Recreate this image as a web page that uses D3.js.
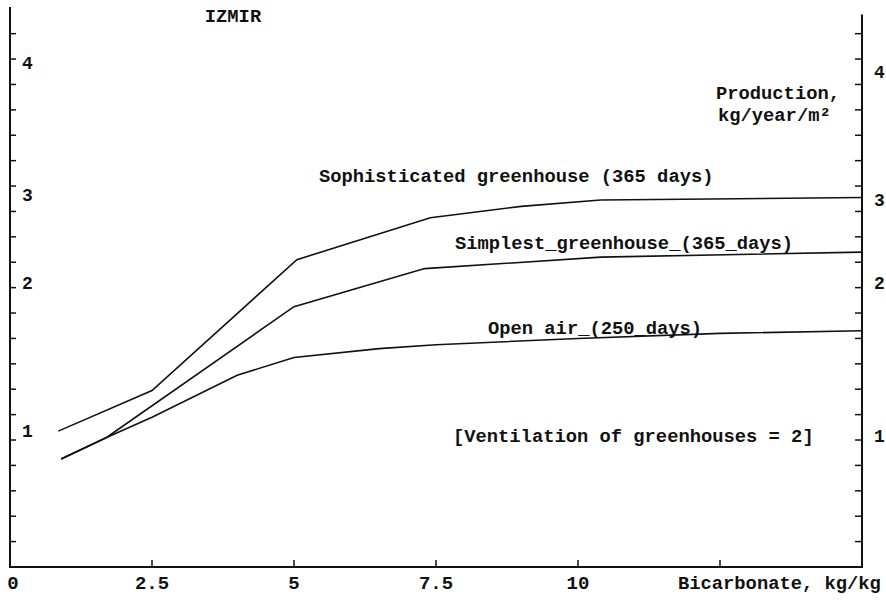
<!DOCTYPE html>
<html lang="en">
<head>
<meta charset="UTF-8">
<title>IZMIR - Production vs Bicarbonate</title>
<script src="https://d3js.org/d3.v7.min.js"></script>
<style>
    body { margin: 0; background: #fff; }
    svg text { font-family: "Liberation Mono", "DejaVu Sans Mono", monospace; font-weight: bold; fill: #111; }
</style>
</head>
<body>
<div id="chart"></div>
<script>
// data
var xTicks = [2.5, 5, 7.5, 10, 12.5];
var xLabels = ['0', '2.5', '5', '7.5', '10'];
var xLabelVals = [0.05, 2.5, 5, 7.5, 10];
var yMinorTicks = d3.range(1, 22).map(function(i){ return i * 0.2; });
var yLabels = ['1', '2', '3', '4'];
var yLabelPosLeft = [1.07, 2.24, 2.93, 3.97];
var yLabelPosRight = [1.03, 2.24, 2.89, 3.90];

var sophX = [0.85, 2.5, 5.05, 7.4, 9.0, 10.4, 15];
var sophY = [1.07, 1.39, 2.42, 2.75, 2.84, 2.89, 2.91];
var simpX = [0.9, 1.7, 5.0, 7.3, 10.4, 15];
var simpY = [0.85, 1.02, 2.05, 2.35, 2.44, 2.48];
var openX = [0.9, 1.7, 2.5, 4.0, 5.0, 6.5, 7.5, 10, 12.5, 15];
var openY = [0.85, 1.02, 1.18, 1.51, 1.65, 1.72, 1.75, 1.80, 1.84, 1.86];

var w = 886, h = 604;
var x = d3.scaleLinear().domain([0, 15]).range([10, 862]);
var y = d3.scaleLinear().domain([0, 4.41]).range([567, 7]);

var svg = d3.select('#chart').append('svg')
    .attr('width', w)
    .attr('height', h);

// axes frame
svg.append('line').attr('x1', x(0)).attr('x2', x(0)).attr('y1', y(0)).attr('y2', y(4.41))
    .attr('stroke', '#111').attr('stroke-width', 2);
svg.append('line').attr('x1', x(15)).attr('x2', x(15)).attr('y1', y(0)).attr('y2', y(4.35))
    .attr('stroke', '#111').attr('stroke-width', 2);
svg.append('line').attr('x1', x(0) - 1).attr('x2', x(15) + 1).attr('y1', y(0)).attr('y2', y(0))
    .attr('stroke', '#111').attr('stroke-width', 2);

// minor ticks, left goes right, right goes left
svg.append('g').selectAll('line').data(yMinorTicks).enter().append('line')
    .attr('x1', x(0)).attr('x2', x(0) + 6)
    .attr('y1', function(d){ return y(d); }).attr('y2', function(d){ return y(d); })
    .attr('stroke', '#111').attr('stroke-width', 1.5);
svg.append('g').selectAll('line').data(yMinorTicks).enter().append('line')
    .attr('x1', x(15) - 7).attr('x2', x(15))
    .attr('y1', function(d){ return y(d); }).attr('y2', function(d){ return y(d); })
    .attr('stroke', '#111').attr('stroke-width', 1.5);
svg.append('g').selectAll('line').data(xTicks).enter().append('line')
    .attr('x1', function(d){ return x(d); }).attr('x2', function(d){ return x(d); })
    .attr('y1', y(0)).attr('y2', y(0) - 7)
    .attr('stroke', '#111').attr('stroke-width', 1.5);

// tick labels
svg.append('g').selectAll('text').data(xLabels).enter().append('text')
    .attr('x', function(d, i){ return x(xLabelVals[i]); })
    .attr('y', 589)
    .attr('text-anchor', 'middle')
    .style('font-size', '19px')
    .text(function(d){ return d; });
svg.append('g').selectAll('text').data(yLabels).enter().append('text')
    .attr('x', 22)
    .attr('y', function(d, i){ return y(yLabelPosLeft[i]) + 6; })
    .style('font-size', '18px')
    .text(function(d){ return d; });
svg.append('g').selectAll('text').data(yLabels).enter().append('text')
    .attr('x', 874)
    .attr('y', function(d, i){ return y(yLabelPosRight[i]) + 6; })
    .style('font-size', '18px')
    .text(function(d){ return d; });

// curves
var line = d3.line().x(function(d){ return x(d[0]); }).y(function(d){ return y(d[1]); });
var series = [d3.zip(sophX, sophY), d3.zip(simpX, simpY), d3.zip(openX, openY)];
svg.append('g').selectAll('path').data(series).enter().append('path')
    .attr('d', line)
    .attr('fill', 'none')
    .attr('stroke', '#111')
    .attr('stroke-width', 1.6);

// texts
function label(txt, tx, ty, anchor){
    svg.append('text').attr('x', tx).attr('y', ty)
        .attr('text-anchor', anchor || 'start')
        .style('font-size', '18.8px')
        .text(txt);
}
label('IZMIR', 233, 22, 'middle');
label('Production,', 716, 99);
label('kg/year/m\u00b2', 718, 121);
label('Sophisticated greenhouse (365 days)', 319, 182);
label('Simplest_greenhouse_(365_days)', 455, 249);
label('Open air_(250_days)', 488, 334);
label('[Ventilation of greenhouses = 2]', 453, 442);
label('Bicarbonate, kg/kg', 678, 589);
</script>
</body>
</html>
